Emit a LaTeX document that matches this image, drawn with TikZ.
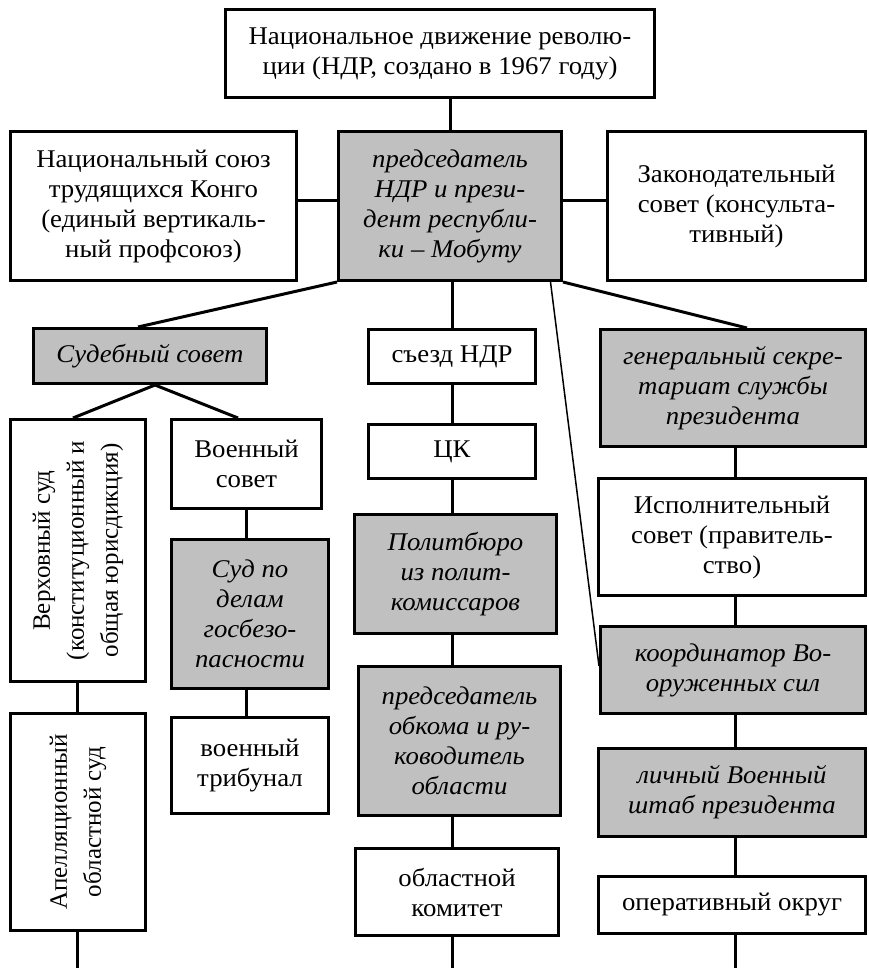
\documentclass[tikz,border=0pt]{standalone}
\usepackage{fontspec}
\setmainfont{Liberation Serif}
\newfontfamily\hfont[FakeStretch=1.05]{Liberation Serif}
\usetikzlibrary{calc}
\definecolor{boxgray}{RGB}{192,192,192}
\begin{document}
\begin{tikzpicture}[x=1pt,y=-1pt,
  box/.style={draw, line width=3pt, inner sep=0pt, align=center, font=\hfont\fontsize{25.5}{30}\selectfont},
  gbox/.style={box, fill=boxgray, font=\hfont\fontsize{25.5}{30}\selectfont\itshape},
  rtext/.style={rotate=90, align=center, inner sep=0pt, font=\fontsize{25}{34}\selectfont},
  conn/.style={line width=3pt},
  thinconn/.style={line width=1.5pt}]
\useasboundingbox (0,0) rectangle (868,971);
% top level
\node[box, minimum width=429pt, minimum height=88pt] (top) at (440,53.5) {Национальное движение револю-\\ции (НДР, создано в 1967 году)};
\node[box, minimum width=286pt, minimum height=149pt] (soyuz) at (153.5,206) {Национальный союз\\трудящихся Конго\\(единый вертикаль-\\ный профсоюз)};
\node[gbox, minimum width=223pt, minimum height=149pt] (pres) at (450,206) {председатель\\НДР и прези-\\дент республи-\\ки – Мобуту};
\node[box, minimum width=258pt, minimum height=149pt] (zakon) at (736.5,206) {Законодательный\\совет (консульта-\\тивный)};
% third level
\node[gbox, minimum width=233pt, minimum height=55pt] (sud) at (150,356) {Судебный совет};
\node[box, minimum width=167pt, minimum height=54pt] (sezd) at (452,356.5) {съезд НДР};
\node[gbox, minimum width=265pt, minimum height=117pt] (gen) at (733,388) {генеральный секре-\\тариат службы\\президента};
% left column
\node[box, minimum width=135pt, minimum height=262pt] (verkh) at (78,550.5) {};
\node[rtext] (verkhT) at (verkh.center) {Верховный суд\\(конституционный и\\общая юрисдикция)};
\node[box, minimum width=150pt, minimum height=89pt] (voen) at (246.5,464) {Военный\\совет};
\node[gbox, minimum width=157pt, minimum height=149pt] (gosbez) at (250,614) {Суд по\\делам\\госбезо-\\пасности};
\node[box, minimum width=157pt, minimum height=96pt] (trib) at (250,765.5) {военный\\трибунал};
\node[box, minimum width=135pt, minimum height=217pt] (apell) at (78,822) {};
\node[rtext] (apellT) at (apell.center) {Апелляционный\\областной суд};
% middle column
\node[box, minimum width=167pt, minimum height=54pt] (ck) at (452,451.5) {ЦК};
\node[gbox, minimum width=202pt, minimum height=119pt] (polit) at (455.5,574) {Политбюро\\из полит-\\комиссаров};
\node[gbox, minimum width=202pt, minimum height=149pt] (obkom) at (459.5,741) {председатель\\обкома и ру-\\ководитель\\области};
\node[box, minimum width=203pt, minimum height=87pt] (oblkom) at (457,892) {областной\\комитет};
% right column
\node[box, minimum width=267pt, minimum height=117pt] (isp) at (732,537) {Исполнительный\\совет (правитель-\\ство)};
\node[gbox, minimum width=265pt, minimum height=87pt] (koord) at (733,670) {координатор Во-\\оруженных сил};
\node[gbox, minimum width=267pt, minimum height=88pt] (lichny) at (732,792.5) {личный Военный\\штаб президента};
\node[box, minimum width=267pt, minimum height=57pt] (operat) at (732,905) {оперативный округ};
% helper coordinates
\coordinate (hy) at (0,200);
\coordinate (midx) at (452,0);
\coordinate (rightx) at (735,0);
\coordinate (leftx) at (77,0);
\coordinate (milx) at (246,0);
\coordinate (bottom) at (0,968);
% connectors
\draw[conn] (pres.north) -- (pres.north |- top.south);
\draw[conn] (soyuz.east |- hy) -- (pres.west |- hy);
\draw[conn] (pres.east |- hy) -- (zakon.west |- hy);
\draw[conn] (pres.south west) -- ($(sud.north)+(-12,0)$);
\draw[conn] (pres.south east) -- ($(gen.north)+(14,0)$);
\draw[conn] (midx |- pres.south) -- (midx |- sezd.north);
\draw[thinconn] ($(pres.south east)+(-12.5,0)$) -- ($(koord.west)+(0,-4)$);
\draw[conn] ($(sud.south)+(5,0)$) -- ($(verkh.north)+(-5,0)$);
\draw[conn] ($(sud.south)+(5,0)$) -- ($(voen.north)+(-8.5,0)$);
\draw[conn] (milx |- voen.south) -- (milx |- gosbez.north);
\draw[conn] (milx |- gosbez.south) -- (milx |- trib.north);
\draw[conn] (leftx |- verkh.south) -- (leftx |- apell.north);
\draw[conn] (leftx |- apell.south) -- (leftx |- bottom);
\draw[conn] (midx |- sezd.south) -- (midx |- ck.north);
\draw[conn] (midx |- ck.south) -- (midx |- polit.north);
\draw[conn] (midx |- polit.south) -- (midx |- obkom.north);
\draw[conn] (midx |- obkom.south) -- (midx |- oblkom.north);
\draw[conn] (midx |- oblkom.south) -- (midx |- bottom);
\draw[conn] (rightx |- gen.south) -- (rightx |- isp.north);
\draw[conn] (rightx |- isp.south) -- (rightx |- koord.north);
\draw[conn] (rightx |- koord.south) -- (rightx |- lichny.north);
\draw[conn] (rightx |- lichny.south) -- (rightx |- operat.north);
\draw[conn] (rightx |- operat.south) -- (rightx |- bottom);
\end{tikzpicture}
\end{document}
